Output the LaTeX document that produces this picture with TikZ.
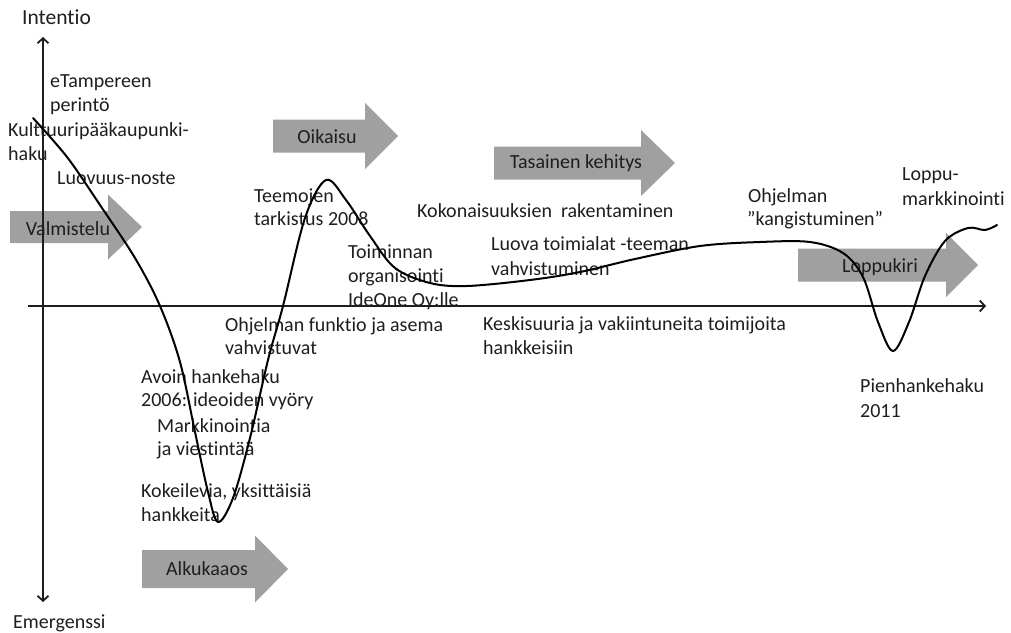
\documentclass[tikz,border=0pt]{standalone}
\usepackage{fontspec}
\setmainfont{Carlito}[Ligatures=CommonOff]
\usetikzlibrary{arrows.meta}
\definecolor{phasegray}{RGB}{160,160,160}
\definecolor{ink}{RGB}{30,30,30}
% phase arrow: left edge, head start, tip, middle y, body half height, head half height
\newcommand\phasearrow[6]{%
  \fill[phasegray] (#1,#4-#5) -- (#2,#4-#5) -- (#2,#4-#6) -- (#3,#4)
    -- (#2,#4+#6) -- (#2,#4+#5) -- (#1,#4+#5) -- cycle;}
\begin{document}
\begin{tikzpicture}[x=1pt,y=-1pt,
  lbl/.style={anchor=base west, inner sep=0pt, text=ink, font=\fontsize{20}{24}\selectfont},
  axlbl/.style={anchor=base west, inner sep=0pt, text=ink, font=\fontsize{21.5}{26}\selectfont},
  phase/.style={anchor=base, inner sep=0pt, text=ink, font=\fontsize{20}{24}\selectfont},
  axis/.style={line width=1.8pt, ink, {Straight Barb[length=5pt,width=11pt]}-{Straight Barb[length=5pt,width=11pt]}},
  haxis/.style={line width=1.8pt, ink, -{Straight Barb[length=5pt,width=11pt]}},
  course/.style={line width=2pt, black, line cap=round}]
\useasboundingbox (0,0) rectangle (1011,632);

% phase arrows
\phasearrow{10}{108}{142}{227}{16}{32.5}
\phasearrow{273}{365}{398}{136}{16.5}{33}
\phasearrow{494}{641}{675}{163}{16.5}{33}
\phasearrow{798}{946}{978}{265}{16.5}{32}
\phasearrow{142}{255}{288}{569}{19}{33.5}
\node[phase] (pValm) at (68,235) {Valmistelu};
\node[phase] (pOik) at (327,143) {Oikaisu};
\node[phase] (pTas) at (576,168) {Tasainen kehitys};
\node[phase] (pLop) at (880,272) {Loppukiri};
\node[phase] (pAlk) at (207,575) {Alkukaaos};

% axes
\coordinate (vtop) at (43,37);
\coordinate (vbot) at (43,602);
\coordinate (hleft) at (28,306);
\coordinate (hright) at (986,306);
\draw[axis] (vbot) -- (vtop);
\draw[haxis] (hleft) -- (hright);
\node[axlbl] (intentio) at (22,24) {Intentio};
\node[lbl] (emerg) at (13,628) {Emergenssi};

% event labels
\node[lbl] (l1) at (50,87) {eTampereen};
\node[lbl] (l2) at (50,111.5) {perintö};
\node[lbl] (l3) at (8,136.5) {Kulttuuripääkaupunki-};
\node[lbl] (l4) at (8,160) {haku};
\node[lbl] (l5) at (57,184) {Luovuus-noste};
\node[lbl] (l6) at (141,383) {Avoin hankehaku};
\node[lbl] (l7) at (141,406) {2006: ideoiden vyöry};
\node[lbl] (l8) at (157,432) {Markkinointia};
\node[lbl] (l9) at (157,455) {ja viestintää};
\node[lbl] (l10) at (141,497) {Kokeilevia, yksittäisiä};
\node[lbl] (l11) at (141,521) {hankkeita};
\node[lbl] (l12) at (225,331) {Ohjelman funktio ja asema};
\node[lbl] (l13) at (225,354) {vahvistuvat};
\node[lbl] (l14) at (254,202) {Teemojen};
\node[lbl] (l15) at (254,225) {tarkistus 2008};
\node[lbl] (l16) at (348,258) {Toiminnan};
\node[lbl] (l17) at (348,282) {organisointi};
\node[lbl] (l18) at (348,306) {IdeOne Oy:lle};
\node[lbl] (l19) at (417,217) {Kokonaisuuksien\ \ rakentaminen};
\node[lbl] (l20) at (491,250) {Luova toimialat -teeman};
\node[lbl] (l21) at (491,275) {vahvistuminen};
\node[lbl] (l22) at (483,330) {Keskisuuria ja vakiintuneita toimijoita};
\node[lbl] (l23) at (483,354) {hankkeisiin};
\node[lbl] (l24) at (748,202) {Ohjelman};
\node[lbl] (l25) at (747,225) {”kangistuminen”};
\node[lbl] (l26) at (902,180) {Loppu-};
\node[lbl] (l27) at (902,205) {markkinointi};
\node[lbl] (l28) at (860,392) {Pienhankehaku};
\node[lbl] (l29) at (860,417) {2011};

% course of the programme
\draw[course] plot[smooth, tension=0.55] coordinates {
  (33,118) (67,157) (100,205) (135,258) (160,306) (180,362) (195,432)
  (208,492) (218,522) (233,498) (250,438) (268,360) (283,306) (305,218)
  (326,180) (346,200) (370,236) (395,268) (430,283) (467,286) (530,280)
  (580,272) (635,259) (700,246) (760,242) (810,242) (843,253) (863,277)
  (878,322) (893,351) (909,322) (925,276) (945,241) (968,228) (985,230) (997,225)};
\end{tikzpicture}
\end{document}
